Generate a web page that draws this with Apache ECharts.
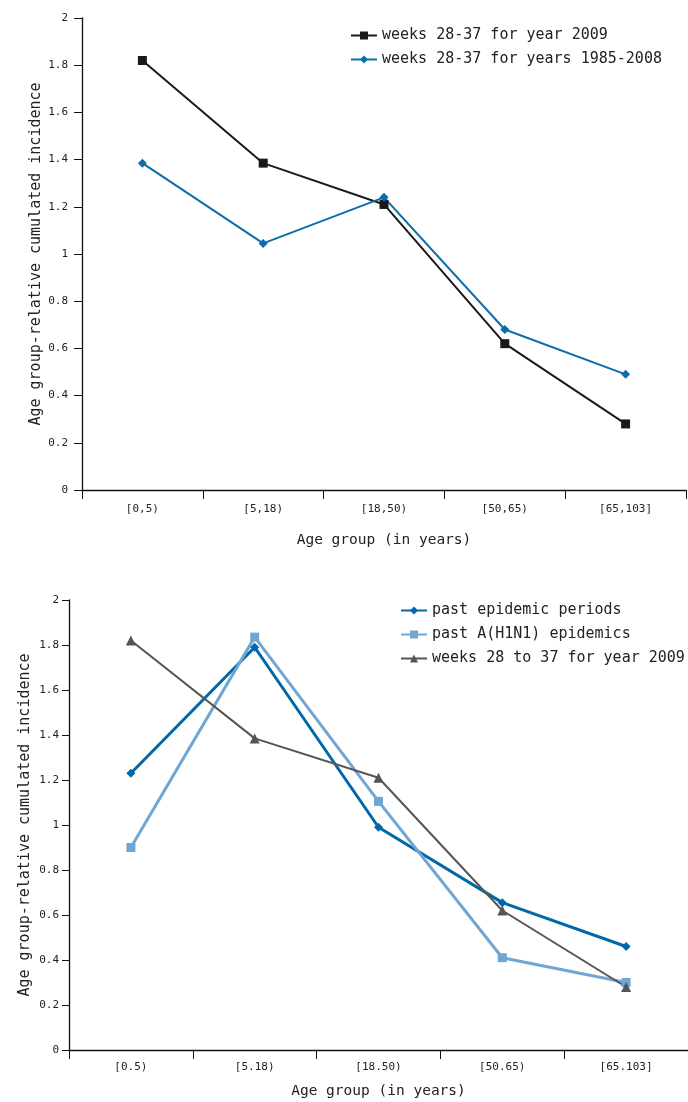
<!DOCTYPE html>
<html><head><meta charset="utf-8">
<script src="https://cdn.jsdelivr.net/npm/echarts@6/dist/echarts.min.js"></script>
<style>html,body{margin:0;padding:0;background:#fff}#c{width:688px;height:1102px}</style>
</head><body><div id="c"></div>
<script>
const catsTop = ['[0,5)', '[5,18)', '[18,50)', '[50,65)', '[65,103]'];
const catsBottom = ['[0.5)', '[5.18)', '[18.50)', '[50.65)', '[65.103]'];
const year2009 = [1.82, 1.385, 1.21, 0.62, 0.28];
const years1985_2008 = [1.385, 1.045, 1.24, 0.68, 0.49];
const pastEpidemic = [1.23, 1.79, 0.99, 0.655, 0.46];
const pastH1N1 = [0.90, 1.835, 1.105, 0.41, 0.30];
const weeks2009 = [1.82, 1.385, 1.21, 0.62, 0.28];

const FONT = 'DejaVu Sans Mono';
const txt = '#222';
function xAxis(idx, cats, nameGap, labelMargin) {
  return {
    type: 'category', gridIndex: idx, data: cats, boundaryGap: true,
    name: 'Age group (in years)', nameLocation: 'middle', nameGap: nameGap,
    nameTextStyle: { fontFamily: FONT, fontSize: 14.5, color: txt },
    axisLine: { lineStyle: { color: '#111', width: 1.3 } },
    axisTick: { show: true, length: 9, lineStyle: { color: '#111' } },
    axisLabel: { fontFamily: FONT, fontSize: 11, color: txt, margin: labelMargin }
  };
}
function yAxis(idx, nameGap, tickLen, labelMargin) {
  return {
    type: 'value', gridIndex: idx, min: 0, max: 2, interval: 0.2,
    name: 'Age group-relative cumulated incidence', nameLocation: 'middle', nameGap: nameGap,
    nameMoveOverlap: false,
    nameTextStyle: { fontFamily: FONT, fontSize: 15, color: txt },
    axisLine: { show: true, lineStyle: { color: '#111', width: 1.3 } },
    axisTick: { show: true, length: tickLen, lineStyle: { color: '#111' } },
    axisLabel: { fontFamily: FONT, fontSize: 11, color: txt, margin: labelMargin },
    splitLine: { show: false }
  };
}
const chart = echarts.init(document.getElementById('c'), null, { renderer: 'canvas' });
chart.setOption({
  backgroundColor: '#fff',
  animation: false,
  grid: [
    { left: 82, right: 2, top: 18, height: 472 },
    { left: 69, right: 0, top: 600, height: 450 }
  ],
  legend: [
    { left: 345, top: 23, orient: 'vertical', itemGap: 9, itemWidth: 26, itemHeight: 10,
      textStyle: { fontFamily: FONT, fontSize: 15, color: txt },
      data: ['weeks 28-37 for year 2009', 'weeks 28-37 for years 1985-2008'] },
    { left: 395, top: 598, orient: 'vertical', itemGap: 9, itemWidth: 26, itemHeight: 10,
      textStyle: { fontFamily: FONT, fontSize: 15, color: txt },
      data: ['past epidemic periods', 'past A(H1N1) epidemics', 'weeks 28 to 37 for year 2009'] }
  ],
  xAxis: [xAxis(0, catsTop, 43, 14), xAxis(1, catsBottom, 34, 12)],
  yAxis: [yAxis(0, 38, 8, 14), yAxis(1, 36, 7, 10)],
  series: [
    { name: 'weeks 28-37 for year 2009', type: 'line', xAxisIndex: 0, yAxisIndex: 0, data: year2009,
      symbol: 'rect', symbolSize: 9, color: '#1a1a1a', lineStyle: { width: 2, color: '#1a1a1a' } },
    { name: 'weeks 28-37 for years 1985-2008', type: 'line', xAxisIndex: 0, yAxisIndex: 0, data: years1985_2008,
      symbol: 'diamond', symbolSize: 9, color: '#0a6eaa', lineStyle: { width: 2, color: '#0a6eaa' } },
    { name: 'past epidemic periods', type: 'line', xAxisIndex: 1, yAxisIndex: 1, data: pastEpidemic,
      symbol: 'diamond', symbolSize: 9, color: '#0068a9', lineStyle: { width: 3, color: '#0068a9' } },
    { name: 'past A(H1N1) epidemics', type: 'line', xAxisIndex: 1, yAxisIndex: 1, data: pastH1N1,
      symbol: 'rect', symbolSize: 9, color: '#6fa6d4', lineStyle: { width: 3, color: '#6fa6d4' } },
    { name: 'weeks 28 to 37 for year 2009', type: 'line', xAxisIndex: 1, yAxisIndex: 1, data: weeks2009,
      symbol: 'triangle', symbolSize: 10, color: '#555555', lineStyle: { width: 2, color: '#555555' } }
  ]
});
</script></body></html>
